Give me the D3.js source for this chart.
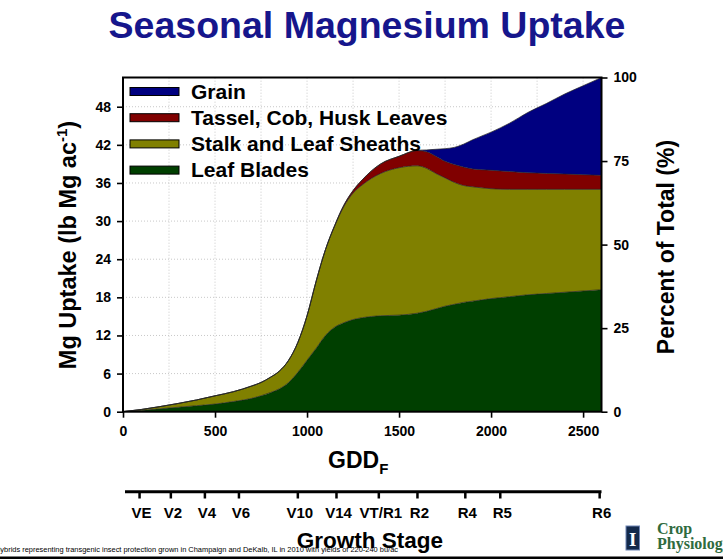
<!DOCTYPE html>
<html>
<head>
<meta charset="utf-8">
<script src="https://cdn.jsdelivr.net/npm/d3@7"></script>
<style>
  html, body { margin: 0; padding: 0; background: #fff; }
  svg { display: block; }
  text { font-family: Arial, "Liberation Sans", sans-serif; }
</style>
</head>
<body>
<svg id="chart" width="723" height="559"></svg>
<script>
// ---------------- DATA ----------------
const gdd = [0,100,200,300,400,500,600,700,750,800,850,900,950,1000,1050,1100,1150,1200,1250,1300,1400,1500,1600,1650,1700,1750,1800,1850,1900,2000,2100,2200,2300,2400,2500,2600];
const leafBlades = [0,0.2,0.45,0.7,0.95,1.2,1.6,2.1,2.5,3.0,3.6,4.6,6.2,8.1,10.0,12.0,13.3,14.0,14.5,14.8,15.1,15.2,15.5,15.8,16.2,16.6,16.9,17.2,17.4,17.8,18.1,18.4,18.6,18.8,19.0,19.2];
const stalkSheaths = [0,0.15,0.35,0.6,0.9,1.3,1.55,1.95,2.1,2.4,2.8,3.5,4.7,7.0,10.6,13.5,15.9,18.3,19.9,20.9,22.4,23.2,23.2,22.5,21.3,20.2,19.2,18.4,18.0,17.3,16.9,16.6,16.4,16.2,16.0,15.8];
const tasselCobHusk = [0,0,0,0,0,0,0,0,0,0,0,0,0,0,0,0,0.1,0.2,0.4,0.8,1.5,1.8,2.4,2.6,2.7,2.6,2.8,2.9,2.8,2.9,2.8,2.6,2.5,2.4,2.3,2.2];
const grain = [0,0,0,0,0,0,0,0,0,0,0,0,0,0,0,0,0,0,0,0,0,0,0.05,0.3,1.1,2.0,2.7,3.6,4.6,6.0,7.6,9.5,11.0,12.6,14.0,15.4];

const seriesKeys = ["leaf","stalk","tassel","grain"];
const seriesLabels = {grain:"Grain", tassel:"Tassel, Cob, Husk Leaves", stalk:"Stalk and Leaf Sheaths", leaf:"Leaf Blades"};
const legendOrder = ["grain","tassel","stalk","leaf"];

const yTicks = [0,6,12,18,24,30,36,42,48];
const pctTicks = [0,25,50,75,100];
const xTicks = [0,500,1000,1500,2000,2500];
const xGrid = [250,500,750,1000,1250,1500,1750,2000,2250,2500];

const stageLabels = ["VE","V2","V4","V6","V10","V14","VT/R1","R2","R4","R5","R6"];
const stageGDD = [90,260,445,630,950,1160,1390,1600,1860,2050,2590];

const titleText = "Seasonal Magnesium Uptake";
const footnote = "Hybrids representing transgenic insect protection grown in Champaign and DeKalb, IL in 2010 with yields of 220-240 bu/ac";

// ---------------- STYLE ----------------
const colors = {grain:"#000080", tassel:"#800000", stalk:"#808000", leaf:"#003f00"};

const svg = d3.select("#chart");
const x = d3.scaleLinear().domain([0,2600]).range([123,601.5]);
const y = d3.scaleLinear().domain([0,52.6]).range([411.7,77.5]);
const yPct = d3.scaleLinear().domain([0,100]).range([411.7,77.5]);

// title
svg.append("text").attr("x",367).attr("y",38).attr("text-anchor","middle")
  .attr("font-size",37.5).attr("font-weight","bold").attr("fill","#16168c").text(titleText);

// gridlines
const grid = svg.append("g").attr("stroke","#c8c8c8").attr("stroke-width",1).attr("stroke-dasharray","1,2");
grid.selectAll("line.h").data(yTicks.filter(d=>d>0)).join("line")
  .attr("x1",x(0)).attr("x2",x(2600)).attr("y1",d=>y(d)).attr("y2",d=>y(d));
grid.selectAll("line.v").data(xGrid).join("line")
  .attr("x1",d=>x(d)).attr("x2",d=>x(d)).attr("y1",y(0)).attr("y2",y(52.6));

// stacked areas
const rows = gdd.map((g,i)=>({gdd:g, leaf:leafBlades[i], stalk:stalkSheaths[i], tassel:tasselCobHusk[i], grain:grain[i]}));
const stack = d3.stack().keys(seriesKeys);
const layers = stack(rows);
const area = d3.area().x(d=>x(d.data.gdd)).y0(d=>y(d[0])).y1(d=>y(d[1])).curve(d3.curveMonotoneX);
const line = d3.line().x(d=>x(d.data.gdd)).y(d=>y(d[1])).curve(d3.curveMonotoneX);
svg.append("g").selectAll("path").data(layers).join("path")
  .attr("d",area).attr("fill",d=>colors[d.key]);
svg.append("g").selectAll("path").data(layers).join("path")
  .attr("d",line).attr("fill","none").attr("stroke","#222").attr("stroke-width",0.7);

// legend
const lg = svg.append("g");
legendOrder.forEach((k,i)=>{
  const cy = 91.5 + i*26.2;
  lg.append("rect").attr("x",130).attr("y",cy-4).attr("width",49).attr("height",8)
    .attr("fill",colors[k]).attr("stroke","#000").attr("stroke-width",1);
  lg.append("text").attr("x",191).attr("y",cy+7).attr("font-size",21).attr("font-weight","bold")
    .attr("fill","#000").text(seriesLabels[k]);
});

// axes
const axL = svg.append("g").attr("transform",`translate(${x(0)},0)`)
  .call(d3.axisLeft(y).tickValues(yTicks).tickSize(6).tickPadding(6).tickFormat(d3.format("d")));
const axR = svg.append("g").attr("transform",`translate(${x(2600)},0)`)
  .call(d3.axisRight(yPct).tickValues(pctTicks).tickSize(6).tickPadding(6).tickFormat(d3.format("d")));
const axB = svg.append("g").attr("transform",`translate(0,${y(0)})`)
  .call(d3.axisBottom(x).tickValues(xTicks).tickSize(6).tickPadding(8).tickFormat(d3.format("d")));
[axL,axR,axB].forEach(a=>{
  a.select(".domain").remove();
  a.selectAll(".tick line").attr("stroke","#000").attr("stroke-width",1.6);
  a.selectAll(".tick text").attr("font-size",14).attr("font-weight","bold").attr("fill","#000")
    .attr("font-family","Arial, 'Liberation Sans', sans-serif");
});
// frame
svg.append("rect").attr("x",x(0)).attr("y",y(52.6)).attr("width",x(2600)-x(0)).attr("height",y(0)-y(52.6))
  .attr("fill","none").attr("stroke","#000").attr("stroke-width",2);

// axis titles
const yt = svg.append("text").attr("transform","translate(76,245) rotate(-90)").attr("text-anchor","middle")
  .attr("font-size",23.5).attr("font-weight","bold").attr("fill","#000");
yt.append("tspan").text("Mg Uptake (lb Mg ac");
yt.append("tspan").attr("font-size",15).attr("dy",-9).text("-1");
yt.append("tspan").attr("dy",9).text(")");

svg.append("text").attr("transform","translate(674,247) rotate(-90)").attr("text-anchor","middle")
  .attr("font-size",23).attr("font-weight","bold").attr("fill","#000").text("Percent of Total (%)");

const xt = svg.append("text").attr("x",328).attr("y",468).attr("font-size",23).attr("font-weight","bold").attr("fill","#000");
xt.append("tspan").text("GDD");
xt.append("tspan").attr("font-size",15).attr("dy",6).text("F");

// growth stage axis
const sg = svg.append("g");
sg.append("line").attr("x1",x(0)+2).attr("x2",x(2600)).attr("y1",491.7).attr("y2",491.7)
  .attr("stroke","#000").attr("stroke-width",3);
sg.selectAll("line.t").data(stageGDD).join("line").attr("class","t")
  .attr("x1",d=>x(d)).attr("x2",d=>x(d)).attr("y1",491.7).attr("y2",498.5)
  .attr("stroke","#000").attr("stroke-width",2.5);
sg.selectAll("text").data(stageLabels).join("text")
  .attr("x",(d,i)=>x(stageGDD[i])+2).attr("y",518).attr("text-anchor","middle")
  .attr("font-size",15).attr("font-weight","bold").attr("fill","#000").text(d=>d);
svg.append("text").attr("x",370).attr("y",548).attr("text-anchor","middle")
  .attr("font-size",22.5).attr("font-weight","bold").attr("fill","#000").text("Growth Stage");

// footnote
svg.append("text").attr("x",-5).attr("y",551.5).attr("textLength",403).attr("lengthAdjust","spacingAndGlyphs")
  .attr("font-size",7.4).attr("fill","#000").text(footnote);
svg.append("rect").attr("x",0).attr("y",556.5).attr("width",723).attr("height",3).attr("fill","#000");

// logo
svg.append("rect").attr("x",626).attr("y",526).attr("width",13.5).attr("height",24).attr("fill","#13294b")
  .attr("stroke","#6f86b5").attr("stroke-width",1);
svg.append("text").attr("x",632.75).attr("y",546).attr("text-anchor","middle")
  .attr("font-size",19).attr("font-weight","bold")
  .attr("fill","#fff").style("font-family","'Liberation Serif', serif").text("I");
svg.append("text").attr("x",657).attr("y",534).attr("font-size",16).attr("font-weight","bold")
  .style("font-family","'Liberation Serif', 'DejaVu Serif', serif").attr("fill","#2f6b3e").text("Crop");
svg.append("text").attr("x",657).attr("y",549).attr("font-size",16).attr("font-weight","bold")
  .style("font-family","'Liberation Serif', 'DejaVu Serif', serif").attr("fill","#2f6b3e").text("Physiology");
</script>
</body>
</html>
